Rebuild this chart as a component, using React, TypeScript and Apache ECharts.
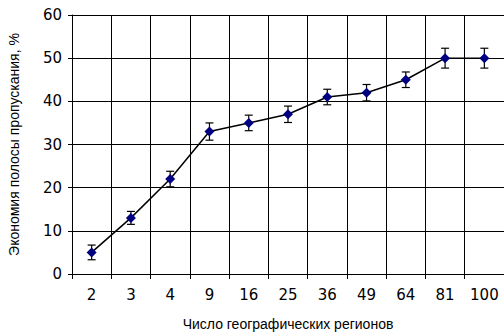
import React, { useEffect, useRef } from "react";
import * as echarts from "echarts";

const categories = ["2", "3", "4", "9", "16", "25", "36", "49", "64", "81", "100"];
const values = [5, 13, 22, 33, 35, 37, 41, 42, 45, 50, 50];
const errors = [1.7, 1.5, 1.8, 2.0, 1.8, 1.9, 1.8, 1.9, 1.8, 2.3, 2.3];
const yTicks = [0, 10, 20, 30, 40, 50, 60];

export default function App() {
  const ref = useRef<HTMLDivElement>(null);
  useEffect(() => {
    if (!ref.current) return;
    const chart = echarts.init(ref.current, null, { renderer: "svg" });
    const font = "Liberation Sans, Arial, sans-serif";
    const tickFont = "DejaVu Sans, sans-serif";
    const gridLine = { show: true, lineStyle: { color: "#000", width: 1, type: "solid", opacity: 1 } };
    chart.setOption({
      animation: false,
      backgroundColor: "#fff",
      grid: { left: 72, top: 15, right: 0, bottom: 60, containLabel: false, outerBoundsMode: "none" },
      xAxis: {
        type: "category",
        data: categories,
        boundaryGap: true,
        name: "Число географических регионов",
        nameLocation: "middle",
        nameGap: 43,
        nameTextStyle: { color: "#000", fontSize: 14, fontFamily: font },
        axisLine: { show: true, lineStyle: { color: "#000", width: 1 } },
        axisTick: { show: true, interval: 0, length: 5, lineStyle: { color: "#000" } },
        axisLabel: { color: "#000", fontSize: 15, fontFamily: tickFont, margin: 13, interval: 0 },
        splitLine: { ...gridLine, interval: 0 },
      },
      yAxis: {
        type: "value",
        min: yTicks[0],
        max: yTicks[yTicks.length - 1],
        interval: 10,
        name: "Экономия полосы пропускания, %",
        nameLocation: "middle",
        nameGap: 51,
        nameTextStyle: { color: "#000", fontSize: 14, fontFamily: font },
        axisLine: { show: true, lineStyle: { color: "#000", width: 1 } },
        axisTick: { show: true, length: 4, inside: false, lineStyle: { color: "#000" } },
        axisLabel: { color: "#000", fontSize: 15, fontFamily: tickFont, margin: 10 },
        splitLine: gridLine,
      },
      series: [
        {
          type: "custom",
          data: values.map((v, i) => [i, v - errors[i], v + errors[i]]),
          z: 3,
          renderItem: (params: any, api: any) => {
            const x = api.value(0);
            const lo = api.coord([x, api.value(1)]);
            const hi = api.coord([x, api.value(2)]);
            const cap = 4;
            const st = { stroke: "#000", lineWidth: 1.2 };
            return {
              type: "group",
              children: [
                { type: "line", shape: { x1: lo[0], y1: lo[1], x2: hi[0], y2: hi[1] }, style: st },
                { type: "line", shape: { x1: lo[0] - cap, y1: lo[1], x2: lo[0] + cap, y2: lo[1] }, style: st },
                { type: "line", shape: { x1: hi[0] - cap, y1: hi[1], x2: hi[0] + cap, y2: hi[1] }, style: st },
              ],
            };
          },
        },
        {
          type: "line",
          data: values,
          z: 4,
          symbol: "diamond",
          symbolSize: 10,
          lineStyle: { color: "#000", width: 1.5 },
          itemStyle: { color: "#000080" },
        },
      ],
    });
    return () => chart.dispose();
  }, []);
  return <div ref={ref} style={{ width: 504, height: 334, position: "absolute", left: 0, top: 0 }} />;
}
